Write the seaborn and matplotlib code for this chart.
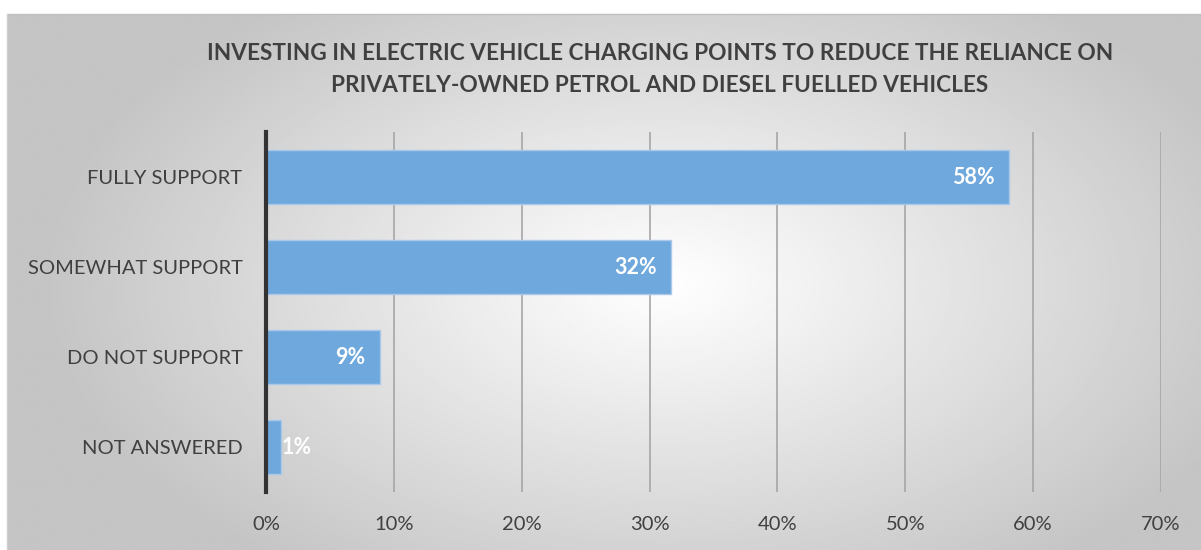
import numpy as np
import pandas as pd
import matplotlib
matplotlib.use("Agg")
from matplotlib import pyplot as plt
import seaborn as sns

# survey answers and their share of respondents (%)
answers = ["FULLY SUPPORT", "SOMEWHAT SUPPORT", "DO NOT SUPPORT", "NOT ANSWERED"]
shares = [58.1, 31.7, 8.9, 1.2]
bar_labels = ["58%", "32%", "9%", "1%"]
x_ticks = [0, 10, 20, 30, 40, 50, 60, 70]

df = pd.DataFrame({"answer": answers, "share": shares})

sns.set_theme(style="white")
plt.rcParams["font.family"] = ["Lato", "DejaVu Sans"]

fig = plt.figure(figsize=(12.01, 5.50), dpi=100)

# radial grey gradient behind the chart, white toward the middle
bg = fig.add_axes([7 / 1201, 0, 1 - 7 / 1201, 1 - 14 / 550], zorder=0)
yy, xx = np.mgrid[0:300, 0:600]
cx, cy = 330, 150
dist = np.sqrt(((xx - cx) / 600) ** 2 + ((yy - cy) / 380) ** 2)
shade = np.clip(1.0 - dist * 0.44, 0.77, 1.0)
bg.imshow(shade, cmap="gray", vmin=0, vmax=1, aspect="auto",
          interpolation="bilinear")
bg.set_axis_off()
# thin outline at the top / left edge of the chart box
fig.add_artist(plt.Line2D([7 / 1201, 1], [1 - 14 / 550] * 2, color="#bfbfbf", lw=1))
fig.add_artist(plt.Line2D([7 / 1201] * 2, [0, 1 - 14 / 550], color="#cfcfcf", lw=1))

ax = fig.add_axes([266 / 1201, 1 - 492 / 550, (1161 - 266) / 1201, (492 - 132) / 550],
                  zorder=1)
ax.patch.set_alpha(0)

sns.barplot(data=df, x="share", y="answer", color="#6fa8dc", saturation=1,
            width=0.59, edgecolor="#a9c8ea", linewidth=1, ax=ax, zorder=3)

ax.set_xlim(0, 70)
ax.set_xticks(x_ticks)
ax.set_xticklabels([f"{t}%" for t in x_ticks])
ax.xaxis.grid(True, color="#a6a6a6", lw=1.2)
ax.set_axisbelow(True)
ax.set_xlabel("")
ax.set_ylabel("")
ax.tick_params(axis="x", length=0, pad=17, labelsize=14.5, labelcolor="#404040")
ax.tick_params(axis="y", length=0, pad=17, labelsize=14.5, labelcolor="#404040")
for side in ["top", "right", "bottom"]:
    ax.spines[side].set_visible(False)
ax.spines["left"].set_color("#333333")
ax.spines["left"].set_linewidth(3)
ax.spines["left"].set_zorder(5)

for patch, txt in zip(ax.patches, bar_labels):
    w = patch.get_width()
    yc = patch.get_y() + patch.get_height() / 2
    if w > 3:
        ax.text(w - 1.1, yc, txt, ha="right", va="center", color="white",
                fontsize=15.5, fontweight="bold", zorder=6)
    else:
        ax.text(w + 0.05, yc, txt, ha="left", va="center", color="white",
                fontsize=15.5, fontweight="bold", zorder=6)

fig.text(660 / 1201, 1 - 53 / 550,
         "INVESTING IN ELECTRIC VEHICLE CHARGING POINTS TO REDUCE THE RELIANCE ON",
         ha="center", va="center", fontsize=16.3, fontweight="bold", color="#404040")
fig.text(660 / 1201, 1 - 86 / 550,
         "PRIVATELY-OWNED PETROL AND DIESEL FUELLED VEHICLES",
         ha="center", va="center", fontsize=16.3, fontweight="bold", color="#404040")

fig.savefig("out.png", dpi=100)
